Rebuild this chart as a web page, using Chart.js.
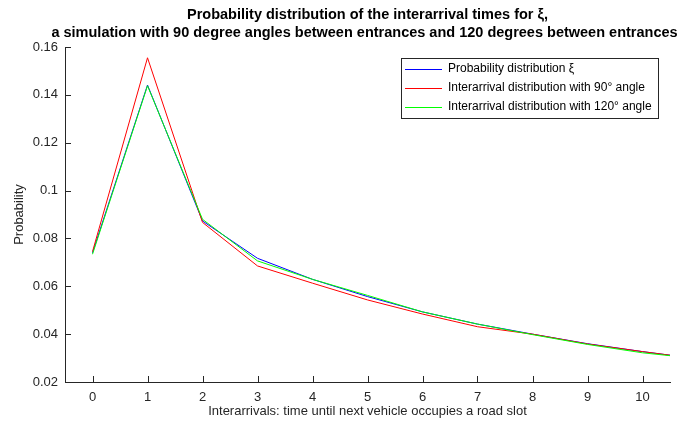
<!DOCTYPE html>
<html>
<head>
<meta charset="utf-8">
<script src="https://cdn.jsdelivr.net/npm/chart.js@4.4.1/dist/chart.umd.min.js"></script>
<style>
  html, body { margin: 0; padding: 0; background: #fff; }
  #wrap { width: 688px; height: 425px; position: relative; }
</style>
</head>
<body>
<div id="wrap"><canvas id="chart"></canvas></div>
<script>
const xValues = [0, 1, 2, 3, 4, 5, 6, 7, 8, 9, 10, 11];
const xTicks = [0, 1, 2, 3, 4, 5, 6, 7, 8, 9, 10];
const yTicks = [0.02, 0.04, 0.06, 0.08, 0.1, 0.12, 0.14, 0.16];
const probXi = [0.0740, 0.1441, 0.0873, 0.0717, 0.0629, 0.0557, 0.0493, 0.0442, 0.0400, 0.0360, 0.0327, 0.0297];
const inter90 = [0.0745, 0.1555, 0.0867, 0.0685, 0.0613, 0.0543, 0.0484, 0.0431, 0.0400, 0.0359, 0.0327, 0.0297];
const inter120 = [0.0734, 0.1438, 0.0880, 0.0706, 0.0629, 0.0562, 0.0493, 0.0442, 0.0398, 0.0357, 0.0322, 0.0298];

const titleLines = [
    'Probability distribution of the interarrival times for \u03BE,',
    'a simulation with 90 degree angles between entrances and 120 degrees between entrances'
];
const FONT = '"Liberation Sans", Arial, Helvetica, sans-serif';
const AXIS_COLOR = '#262626';

function toPoints(ys) {
    return ys.map((y, i) => ({ x: xValues[i], y: y }));
}

// inward ticks, MATLAB style
const inwardTicks = {
    id: 'inwardTicks',
    afterDatasetsDraw(chart) {
        const { ctx, chartArea, scales } = chart;
        ctx.save();
        ctx.strokeStyle = AXIS_COLOR;
        ctx.lineWidth = 1;
        ctx.beginPath();
        xTicks.forEach(v => {
            const px = Math.round(scales.x.getPixelForValue(v)) + 0.5;
            ctx.moveTo(px, chartArea.bottom);
            ctx.lineTo(px, chartArea.bottom - 6);
        });
        yTicks.forEach(v => {
            const py = Math.round(scales.y.getPixelForValue(v)) + 0.5;
            ctx.moveTo(chartArea.left, py);
            ctx.lineTo(chartArea.left + 6, py);
        });
        ctx.stroke();
        ctx.restore();
    }
};

const mainTitle = {
    id: 'mainTitle',
    afterDraw(chart) {
        const { ctx, chartArea } = chart;
        const cx = (chartArea.left + chartArea.right) / 2;
        ctx.save();
        ctx.fillStyle = '#000';
        ctx.font = 'bold 14.5px ' + FONT;
        ctx.textAlign = 'center';
        ctx.textBaseline = 'middle';
        ctx.fillText(titleLines[0], cx, 15);
        ctx.fillText(titleLines[1], cx - 3, 33);
        ctx.restore();
    }
};

const boxLegend = {
    id: 'boxLegend',
    afterDraw(chart) {
        const { ctx } = chart;
        const x0 = 401, y0 = 58, w = 257, h = 60;
        ctx.save();
        ctx.fillStyle = '#fff';
        ctx.fillRect(x0, y0, w, h);
        ctx.strokeStyle = AXIS_COLOR;
        ctx.lineWidth = 1;
        ctx.strokeRect(x0 + 0.5, y0 + 0.5, w, h);
        ctx.font = '12px ' + FONT;
        ctx.textBaseline = 'middle';
        chart.data.datasets.forEach((ds, i) => {
            const y = y0 + 11 + i * 19;
            ctx.strokeStyle = ds.borderColor;
            ctx.beginPath();
            ctx.moveTo(x0 + 4, y + 0.5);
            ctx.lineTo(x0 + 41, y + 0.5);
            ctx.stroke();
            ctx.fillStyle = '#000';
            ctx.fillText(ds.label, x0 + 47, y);
        });
        ctx.restore();
    }
};

new Chart(document.getElementById('chart'), {
    type: 'line',
    data: {
        datasets: [
            { label: 'Probability distribution \u03BE', data: toPoints(probXi), borderColor: '#0000ff', order: 3 },
            { label: 'Interarrival distribution with 90\u00B0 angle', data: toPoints(inter90), borderColor: '#ff0000', order: 2 },
            { label: 'Interarrival distribution with 120\u00B0 angle', data: toPoints(inter120), borderColor: '#00ff00', order: 1 }
        ]
    },
    options: {
        responsive: true,
        maintainAspectRatio: false,
        animation: false,
        elements: {
            line: { borderWidth: 1, tension: 0, fill: false },
            point: { radius: 0, hoverRadius: 0 }
        },
        layout: { padding: { top: 47, right: 18, left: 0, bottom: 0 } },
        plugins: {
            legend: { display: false },
            tooltip: { enabled: false }
        },
        scales: {
            x: {
                type: 'linear',
                min: -0.5,
                max: 10.5,
                afterBuildTicks: scale => { scale.ticks = xTicks.map(v => ({ value: v })); },
                afterFit: scale => { scale.height = 43; },
                grid: { display: false, drawTicks: false },
                border: { display: true, color: AXIS_COLOR, width: 1 },
                ticks: { color: AXIS_COLOR, padding: 8, font: { family: FONT, size: 13 } },
                title: {
                    display: true,
                    text: 'Interarrivals: time until next vehicle occupies a road slot',
                    color: AXIS_COLOR,
                    font: { family: FONT, size: 13 },
                    padding: { top: 0, bottom: 6 }
                }
            },
            y: {
                min: 0.02,
                max: 0.16,
                afterBuildTicks: scale => { scale.ticks = yTicks.map(v => ({ value: v })); },
                afterFit: scale => { scale.width = 65; },
                grid: { display: false, drawTicks: false },
                border: { display: true, color: AXIS_COLOR, width: 1 },
                ticks: {
                    color: AXIS_COLOR,
                    padding: 7,
                    font: { family: FONT, size: 13 },
                    callback: v => String(+v.toFixed(2))
                },
                title: {
                    display: true,
                    text: 'Probability',
                    color: AXIS_COLOR,
                    font: { family: FONT, size: 13 },
                    padding: { top: 12, bottom: 0 }
                }
            }
        }
    },
    plugins: [inwardTicks, mainTitle, boxLegend]
});
</script>
</body>
</html>
